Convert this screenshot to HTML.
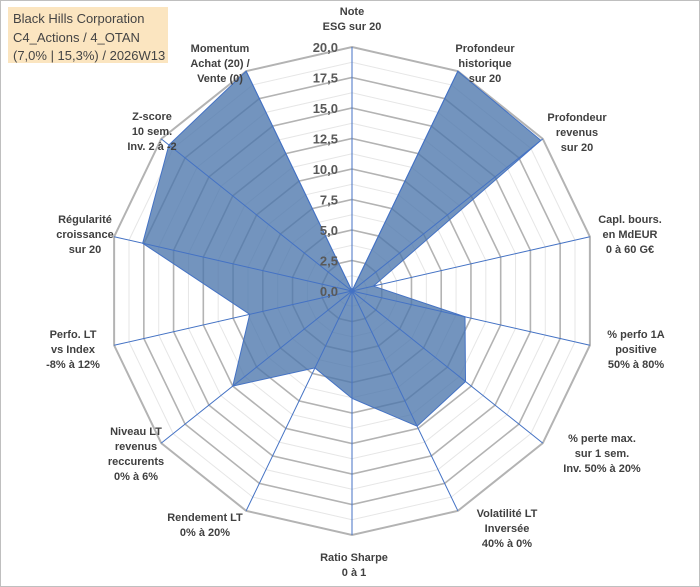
<!DOCTYPE html>
<html><head><meta charset="utf-8"><style>
body{margin:0;background:#fff;}
svg{display:block;font-family:"Liberation Sans",Arial,sans-serif;}
.lab{font-size:11px;font-weight:bold;fill:#404040;text-anchor:middle;}
.tick{font-size:13px;font-weight:bold;fill:#595959;text-anchor:end;}
</style></head><body>
<svg id="chart" width="700" height="587" viewBox="0 0 700 587">
<rect x="0.5" y="0.5" width="699" height="586" fill="#fff" stroke="#bfbfbf"/>
<g id="grid"></g>
<g id="series"></g>
<g id="spokes"></g>
<g id="ticks"></g>
<g id="labels"></g>
<rect x="8" y="7" width="160" height="56" fill="#fbe5c0"/>
<text x="13" y="23" font-size="13" fill="#444">Black Hills Corporation</text>
<text x="13" y="42" font-size="13" fill="#444">C4_Actions / 4_OTAN</text>
<text x="13" y="60" font-size="13" fill="#444">(7,0% | 15,3%) / 2026W13</text>
</svg>
<script>
const categories=[
 ["Note","ESG sur 20"],
 ["Profondeur","historique","sur 20"],
 ["Profondeur","revenus","sur 20"],
 ["Capl. bours.","en MdEUR","0 à 60 G€"],
 ["% perfo 1A","positive","50% à 80%"],
 ["% perte max.","sur 1 sem.","Inv. 50% à 20%"],
 ["Volatilité LT","Inversée","40% à 0%"],
 ["Ratio Sharpe","0 à 1"],
 ["Rendement LT","0% à 20%"],
 ["Niveau LT","revenus","reccurents","0% à 6%"],
 ["Perfo. LT","vs Index","-8% à 12%"],
 ["Régularité","croissance","sur 20"],
 ["Z-score","10 sem.","Inv. 2 à -2"],
 ["Momentum","Achat (20) /","Vente (0)"]
];
const values=[0,20,19.8,1.8,9.5,11.9,12.3,8.8,7.0,12.5,8.6,17.6,19.2,20];
const tickValues=[0,2.5,5,7.5,10,12.5,15,17.5,20];
const tickLabels=["0,0","2,5","5,0","7,5","10,0","12,5","15,0","17,5","20,0"];
const labelAnchors=[[352,5],[485,42],[577,111],[630,213],[636,328],[602,432],[507,507],[354,551],[205,511],[136,425],[73,328],[85,213],[152,110],[220,42]];
const NS="http://www.w3.org/2000/svg";
const cx=352,cy=291,R=244,maxV=20,n=categories.length;
function ang(i){return -Math.PI/2+i*2*Math.PI/n;}
function pt(i,v){const r=v/maxV*R;return [cx+r*Math.cos(ang(i)),cy+r*Math.sin(ang(i))];}
function mk(tag,attrs,parent){const e=document.createElementNS(NS,tag);for(const k in attrs)e.setAttribute(k,attrs[k]);document.getElementById(parent).appendChild(e);return e;}
// minor grid
for(let v=1.25;v<=maxV;v+=2.5){
 const e=mk("polygon",{points:categories.map((c,i)=>pt(i,v).join(",")).join(" "),fill:"none",stroke:"#e6e6e6","stroke-width":1},"grid");
 
 
}
tickValues.forEach(v=>{if(v===0)return;
 const e=mk("polygon",{points:categories.map((c,i)=>pt(i,v).join(",")).join(" "),fill:"none",stroke:"#b3b3b3","stroke-width":v===maxV?2:1.6},"grid");
 
 
});
const poly=mk("polygon",{points:values.map((v,i)=>pt(i,v).join(",")).join(" "),fill:"rgba(76,118,172,0.78)",stroke:"#4472c4","stroke-width":1},"series");


categories.forEach((c,i)=>{const p=pt(i,maxV);
 const e=mk("line",{x1:cx,y1:cy,x2:p[0],y2:p[1],stroke:"#4472c4","stroke-width":1},"spokes");
 
 
});
tickValues.forEach((v,k)=>{
 const e=mk("text",{x:338,y:cy-v/maxV*R+5,class:"tick"},"ticks");e.textContent=tickLabels[k];
 
 
});
categories.forEach((lines,i)=>{const a=labelAnchors[i];
 const t=mk("text",{class:"lab",x:a[0],y:a[1]+10},"labels");
 
 
 lines.forEach((l,j)=>{const s=document.createElementNS(NS,"tspan");s.setAttribute("x",a[0]);s.setAttribute("y",a[1]+10+j*15);s.textContent=l;t.appendChild(s);});
});
</script>
</body></html>
